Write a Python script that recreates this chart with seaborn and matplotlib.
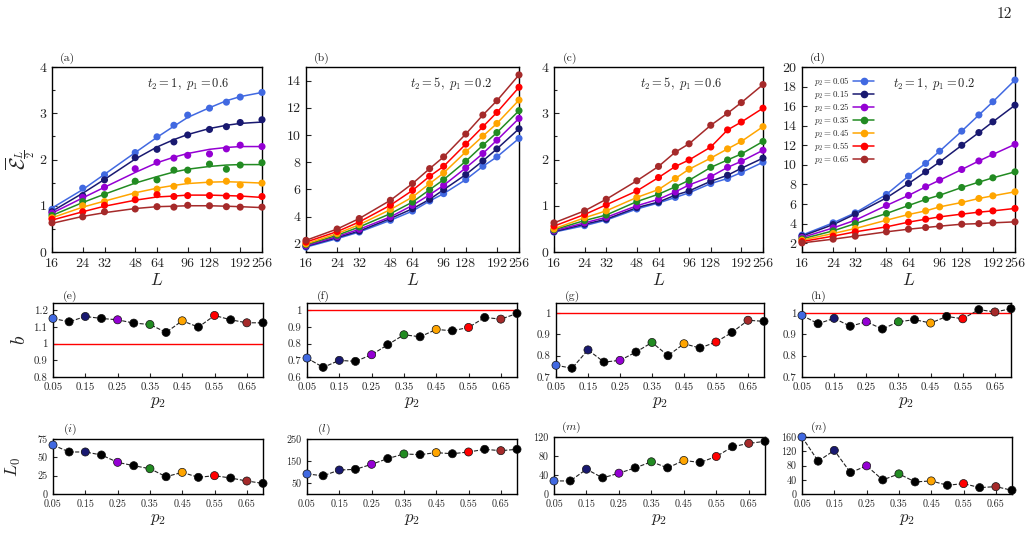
import numpy as np
import pandas as pd
import matplotlib
matplotlib.use("Agg")
import matplotlib.pyplot as plt
from matplotlib.lines import Line2D
import seaborn as sns

sns.set_style("ticks")
plt.rcParams['font.family'] = ['cmr10', 'DejaVu Serif']
plt.rcParams['mathtext.fontset'] = 'cm'
plt.rcParams['axes.unicode_minus'] = False
plt.rcParams['axes.formatter.use_mathtext'] = True

# ---------------- data ----------------
L = [16, 24, 32, 48, 64, 80, 96, 128, 160, 192, 256]
L_ticks = [16, 24, 32, 48, 64, 96, 128, 192, 256]
p2_labels = ["0.05", "0.15", "0.25", "0.35", "0.45", "0.55", "0.65"]
colors = ["#4169e1", "#191970", "#9400d3", "#228b22", "#ffa500", "#ff0000", "#a52a2a"]

# panel (a): markers and fit curves
a_data = [
    [0.92, 1.38, 1.67, 2.15, 2.49, 2.74, 2.96, 3.11, 3.24, 3.35, 3.45],
    [0.87, 1.22, 1.56, 2.04, 2.22, 2.38, 2.53, 2.65, 2.71, 2.80, 2.86],
    [0.84, 1.18, 1.40, 1.80, 1.94, 2.03, 2.09, 2.12, 2.23, 2.31, 2.28],
    [0.79, 1.09, 1.24, 1.53, 1.56, 1.77, 1.77, 1.90, 1.79, 1.88, 1.93],
    [0.74, 1.00, 1.09, 1.25, 1.36, 1.42, 1.54, 1.51, 1.53, 1.45, 1.49],
    [0.71, 0.87, 1.01, 1.13, 1.24, 1.20, 1.22, 1.22, 1.21, 1.20, 1.20],
    [0.63, 0.76, 0.87, 0.93, 0.98, 0.97, 1.01, 1.00, 0.98, 0.97, 0.97],
]
a_fit = [
    [0.95, 1.35, 1.68, 2.15, 2.48, 2.72, 2.91, 3.12, 3.27, 3.36, 3.45],
    [0.88, 1.27, 1.57, 2.01, 2.27, 2.43, 2.54, 2.67, 2.74, 2.78, 2.81],
    [0.84, 1.17, 1.40, 1.72, 1.93, 2.05, 2.13, 2.22, 2.26, 2.28, 2.28],
    [0.79, 1.07, 1.25, 1.49, 1.63, 1.73, 1.79, 1.85, 1.88, 1.89, 1.89],
    [0.74, 0.97, 1.10, 1.28, 1.38, 1.44, 1.48, 1.51, 1.52, 1.51, 1.49],
    [0.69, 0.87, 0.99, 1.12, 1.19, 1.21, 1.23, 1.23, 1.22, 1.21, 1.18],
    [0.62, 0.77, 0.85, 0.94, 0.98, 0.99, 1.00, 1.00, 0.99, 0.98, 0.96],
]
b_data = [
    [1.76, 2.38, 2.87, 3.73, 4.41, 5.15, 5.69, 6.72, 7.70, 8.39, 9.75],
    [1.82, 2.46, 2.94, 3.86, 4.58, 5.27, 5.98, 7.09, 8.10, 8.98, 10.46],
    [1.87, 2.53, 3.07, 3.98, 4.83, 5.61, 6.30, 7.58, 8.64, 9.62, 11.22],
    [1.94, 2.63, 3.24, 4.22, 5.07, 5.98, 6.72, 8.07, 9.25, 10.18, 11.79],
    [2.00, 2.75, 3.41, 4.52, 5.44, 6.43, 7.21, 8.76, 9.92, 10.85, 12.57],
    [2.13, 2.90, 3.61, 4.84, 5.93, 6.97, 7.70, 9.33, 10.61, 11.66, 13.51],
    [2.26, 3.09, 3.86, 5.20, 6.43, 7.53, 8.39, 10.07, 11.47, 12.52, 14.42],
]
c_data = [
    [0.43, 0.57, 0.69, 0.93, 1.06, 1.18, 1.28, 1.48, 1.59, 1.72, 1.94],
    [0.44, 0.60, 0.71, 0.96, 1.08, 1.23, 1.32, 1.53, 1.66, 1.81, 2.03],
    [0.46, 0.63, 0.75, 1.00, 1.14, 1.30, 1.45, 1.63, 1.83, 1.96, 2.20],
    [0.48, 0.68, 0.80, 1.09, 1.25, 1.41, 1.55, 1.83, 1.99, 2.12, 2.39],
    [0.50, 0.74, 0.89, 1.18, 1.35, 1.59, 1.79, 2.03, 2.23, 2.39, 2.71],
    [0.56, 0.81, 1.02, 1.32, 1.61, 1.85, 1.99, 2.27, 2.64, 2.81, 3.11],
    [0.63, 0.89, 1.14, 1.54, 1.85, 2.16, 2.34, 2.74, 3.00, 3.23, 3.62],
]
d_data = [
    [2.82, 4.08, 5.10, 6.98, 8.85, 10.15, 11.40, 13.45, 15.10, 16.45, 18.67],
    [2.72, 3.90, 4.97, 6.63, 8.10, 9.29, 10.30, 12.00, 13.30, 14.40, 16.10],
    [2.58, 3.56, 4.35, 5.85, 6.88, 7.76, 8.44, 9.53, 10.40, 11.07, 12.10],
    [2.44, 3.26, 4.00, 5.03, 5.85, 6.47, 6.90, 7.69, 8.24, 8.68, 9.29],
    [2.31, 2.99, 3.50, 4.35, 4.93, 5.30, 5.71, 6.16, 6.57, 6.84, 7.25],
    [2.17, 2.72, 3.16, 3.67, 4.15, 4.45, 4.69, 4.97, 5.17, 5.30, 5.55],
    [2.03, 2.41, 2.72, 3.16, 3.43, 3.60, 3.74, 3.94, 4.00, 4.08, 4.18],
]

p2 = [0.05, 0.10, 0.15, 0.20, 0.25, 0.30, 0.35, 0.40, 0.45, 0.50, 0.55, 0.60, 0.65, 0.70]
p2_ticks = [0.05, 0.15, 0.25, 0.35, 0.45, 0.55, 0.65]
b_e = [1.152, 1.132, 1.164, 1.152, 1.144, 1.124, 1.116, 1.068, 1.138, 1.100, 1.170, 1.144, 1.126, 1.126]
b_f = [0.714, 0.658, 0.700, 0.694, 0.734, 0.794, 0.854, 0.842, 0.886, 0.878, 0.898, 0.958, 0.948, 0.982]
b_g = [0.755, 0.741, 0.827, 0.770, 0.778, 0.817, 0.862, 0.800, 0.856, 0.836, 0.864, 0.909, 0.966, 0.961]
b_h = [0.989, 0.950, 0.975, 0.938, 0.959, 0.925, 0.959, 0.969, 0.953, 0.984, 0.973, 1.016, 1.005, 1.020]
L0_i = [66.8, 57.3, 57.3, 53.2, 43.2, 38.6, 34.5, 23.6, 29.5, 22.7, 25.0, 21.8, 17.7, 14.5]
L0_l = [91, 83, 109, 112, 135, 161, 182, 179, 188, 183, 191, 203, 197, 203]
L0_m = [27.5, 27.5, 52.2, 33.9, 43.8, 55, 67.8, 55, 70.6, 66.4, 79, 99.5, 106.6, 110.8]
L0_n = [160, 92.2, 122.4, 60.2, 79, 39.5, 56.5, 33.9, 36.7, 24.5, 29.2, 17.9, 20.7, 10.4]

# ---------------- figure ----------------
W, H = 1029, 557
fig = plt.figure(figsize=(W / 100, H / 100), dpi=100)


def px_axes(x0, x1, y0, y1):
    return fig.add_axes([x0 / W, 1 - y1 / H, (x1 - x0) / W, (y1 - y0) / H])


def long_df(series):
    rows = []
    for lab, vals in zip(p2_labels, series):
        for l, v in zip(L, vals):
            rows.append((l, v, lab))
    return pd.DataFrame(rows, columns=["L", "E", "p2"])


pal = dict(zip(p2_labels, colors))

top_specs = [
    ("a", (52, 262), a_data, a_fit, (0, 4), [0, 1, 2, 3, 4], [0.5, 1.5, 2.5, 3.5], r"$t_2=1,\ p_1=0.6$", 0.65),
    ("b", (306, 519), b_data, b_data, (1.4, 15), [2, 4, 6, 8, 10, 12, 14], [], r"$t_2=5,\ p_1=0.2$", 0.68),
    ("c", (554, 763), c_data, c_data, (0, 4), [0, 1, 2, 3, 4], [0.5, 1.5, 2.5, 3.5], r"$t_2=5,\ p_1=0.6$", 0.61),
    ("d", (802, 1015), d_data, d_data, (1.1, 20), list(range(2, 21, 2)), [], r"$t_2=1,\ p_1=0.2$", 0.62),
]

for name, (x0, x1), data, fit, ylim, yt, ymt, ann, ax_x in top_specs:
    ax = px_axes(x0, x1, 67, 252)
    sns.lineplot(data=long_df(fit), x="L", y="E", hue="p2", palette=pal, ax=ax,
                 legend=False, lw=1.1, estimator=None, sort=True)
    sns.scatterplot(data=long_df(data), x="L", y="E", hue="p2", palette=pal, ax=ax,
                    legend=False, s=26, edgecolor="none", zorder=3, clip_on=False)
    ax.set_xscale("log", base=2)
    ax.set_xlim(16, 256)
    ax.set_xticks(L_ticks)
    ax.set_xticklabels([str(t) for t in L_ticks])
    ax.xaxis.set_minor_locator(matplotlib.ticker.NullLocator())
    ax.set_ylim(*ylim)
    ax.set_yticks(yt)
    ax.set_yticklabels([str(t) for t in yt])
    ax.set_yticks(ymt, minor=True)
    ax.tick_params(axis="both", which="both", direction="in", labelsize=10, length=3.5,
                   width=0.8, pad=4)
    ax.tick_params(axis="y", which="minor", length=2.5)
    ax.set_xlabel(r"$L$", fontsize=12.5, labelpad=2)
    ax.set_ylabel("")
    for sp in ax.spines.values():
        sp.set_visible(True)
        sp.set_linewidth(1.0)
        sp.set_color("black")
    ax.text(0.075, 1.015, f"({name})", transform=ax.transAxes, fontsize=8.5, ha="center", va="bottom")
    ax.text(ax_x, 0.91, ann, transform=ax.transAxes, fontsize=9, ha="center", va="center")
    if name == "a":
        ax.set_ylabel(r"$\overline{\mathcal{E}}_{\frac{L}{2}}$", fontsize=15, labelpad=2)
    if name == "d":
        handles = [Line2D([], [], color=c, marker="o", ms=4.5, lw=1.1) for c in colors]
        ax.legend(handles, [rf"$p_2={p}$" for p in p2_labels], loc="upper left",
                  bbox_to_anchor=(0.04, 0.975), frameon=False, fontsize=6.4, markerfirst=False,
                  handlelength=2.3, handletextpad=0.4, labelspacing=0.0, handleheight=0.5,
                  borderaxespad=0.2, borderpad=0.2)

pt_colors = []
ci = 0
for i in range(len(p2)):
    if i % 2 == 0:
        pt_colors.append(colors[ci])
        ci += 1
    else:
        pt_colors.append("black")

mid_specs = [
    ("(e)", (53, 263), b_e, (0.8, 1.245), [0.8, 0.9, 1.0, 1.1, 1.2], ["0.8", "0.9", "1", "1.1", "1.2"]),
    ("(f)", (307, 517), b_f, (0.6, 1.045), [0.6, 0.7, 0.8, 0.9, 1.0], ["0.6", "0.7", "0.8", "0.9", "1"]),
    ("(g)", (556, 764), b_g, (0.7, 1.047), [0.7, 0.8, 0.9, 1.0], ["0.7", "0.8", "0.9", "1"]),
    ("(h)", (802, 1011), b_h, (0.7, 1.047), [0.7, 0.8, 0.9, 1.0], ["0.7", "0.8", "0.9", "1"]),
]
bot_specs = [
    ("$(i)$", (53, 263), (439, 494), L0_i, (0, 75), [0, 25, 50, 75]),
    ("$(l)$", (307, 517), (439, 494), L0_l, (0, 250), [50, 150, 250]),
    ("$(m)$", (554, 765), (437, 494), L0_m, (0, 120), [0, 40, 80, 120]),
    ("$(n)$", (802, 1012), (437, 494), L0_n, (0, 160), [0, 40, 80, 120, 160]),
]


def style_small(ax, labsize):
    ax.set_xlim(0.05, 0.70)
    ax.set_xticks(p2_ticks)
    ax.set_xticklabels([f"{t:.2f}" for t in p2_ticks])
    ax.tick_params(axis="both", which="both", direction="in", labelsize=labsize, length=3,
                   width=0.8, pad=4)
    for sp in ax.spines.values():
        sp.set_visible(True)
        sp.set_linewidth(1.0)
        sp.set_color("black")
    ax.set_xlabel(r"$p_2$", fontsize=12, labelpad=2)
    ax.set_ylabel("")


for j, (lab, (x0, x1), vals, ylim, yt, ytl) in enumerate(mid_specs):
    ax = px_axes(x0, x1, 303, 377)
    ax.axhline(1.0, color="red", lw=1.0, zorder=1)
    sns.lineplot(x=p2, y=vals, ax=ax, color="#222222", lw=0.8, linestyle="--", zorder=2)
    sns.scatterplot(x=p2, y=vals, ax=ax, c=pt_colors, s=34, edgecolor="#111111",
                    linewidth=0.5, zorder=3, clip_on=False, legend=False)
    ax.set_ylim(*ylim)
    ax.set_yticks(yt)
    ax.set_yticklabels(ytl)
    style_small(ax, 7.8)
    ax.text(0.08, 1.02, lab, transform=ax.transAxes, fontsize=8.5, ha="center", va="bottom")
    if j == 0:
        ax.set_ylabel(r"$b$", fontsize=14, labelpad=3)

for j, (lab, (x0, x1), (y0, y1), vals, ylim, yt) in enumerate(bot_specs):
    ax = px_axes(x0, x1, y0, y1)
    sns.lineplot(x=p2, y=vals, ax=ax, color="#222222", lw=0.8, linestyle="--", zorder=2)
    sns.scatterplot(x=p2, y=vals, ax=ax, c=pt_colors, s=34, edgecolor="#111111",
                    linewidth=0.5, zorder=3, clip_on=False, legend=False)
    ax.set_ylim(*ylim)
    ax.set_yticks(yt)
    ax.set_yticklabels([str(t) for t in yt])
    style_small(ax, 7.3)
    ax.text(0.08, 1.03, lab, transform=ax.transAxes, fontsize=8.5, ha="center", va="bottom")
    if j == 0:
        ax.set_ylabel(r"$L_0$", fontsize=13, labelpad=10)

fig.text(1012 / W, 1 - 14 / H, "12", fontsize=11, ha="right", va="center")

fig.savefig("out.png", dpi=100)
